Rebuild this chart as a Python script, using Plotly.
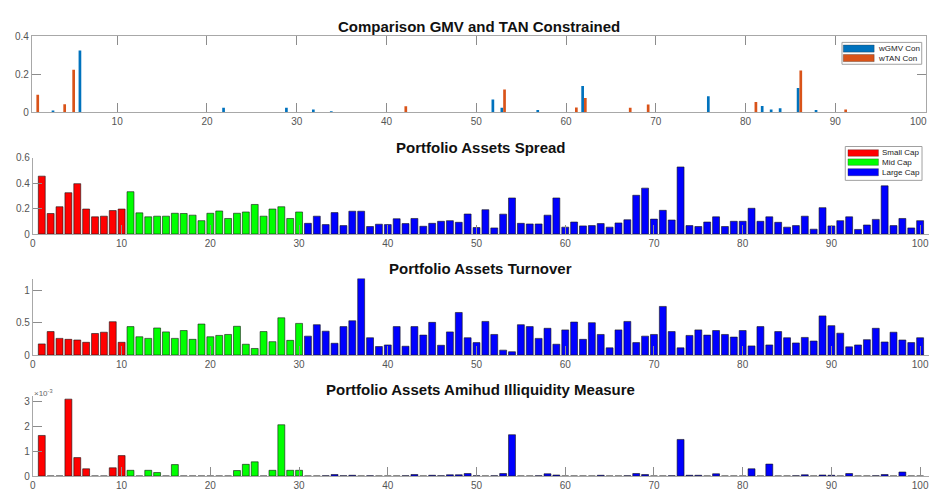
import plotly.graph_objects as go

W, H = 929, 495
assets = list(range(1, 101))

# --- Optimal weights (constrained GMV vs. tangency), only non-zero holdings ---
gmv_assets = [3, 6, 22, 29, 32, 34, 52, 53, 57, 62, 76, 82, 83, 84, 86, 88]
gmv_weights = [0.010, 0.325, 0.024, 0.024, 0.015, 0.006, 0.068, 0.024, 0.012,
               0.138, 0.085, 0.034, 0.015, 0.022, 0.128, 0.012]
tan_assets = [1, 4, 5, 42, 53, 61, 62, 67, 69, 81, 86, 91]
tan_weights = [0.092, 0.043, 0.224, 0.032, 0.120, 0.026, 0.075, 0.024, 0.041,
               0.055, 0.220, 0.015]

# --- Bid-ask spread per asset ---
spread = [0.454, 0.161, 0.214, 0.324, 0.395, 0.196, 0.135, 0.140, 0.184, 0.196,
          0.332, 0.166, 0.135, 0.140, 0.140, 0.163, 0.161, 0.148, 0.105, 0.163,
          0.181, 0.122, 0.163, 0.173, 0.232, 0.140, 0.196, 0.214, 0.122, 0.173,
          0.084, 0.140, 0.074, 0.168, 0.066, 0.179, 0.179, 0.059, 0.077, 0.074,
          0.120, 0.082, 0.122, 0.061, 0.084, 0.100, 0.105, 0.092, 0.157, 0.051,
          0.191, 0.048, 0.156, 0.283, 0.084, 0.079, 0.079, 0.148, 0.283, 0.054,
          0.094, 0.064, 0.066, 0.082, 0.054, 0.087, 0.112, 0.304, 0.360, 0.117,
          0.186, 0.110, 0.526, 0.066, 0.059, 0.094, 0.135, 0.059, 0.100, 0.100,
          0.202, 0.100, 0.135, 0.092, 0.054, 0.066, 0.140, 0.038, 0.207, 0.064,
          0.105, 0.135, 0.036, 0.071, 0.115, 0.378, 0.066, 0.122, 0.048, 0.105]

# --- Turnover per asset ---
turnover = [0.173, 0.365, 0.259, 0.244, 0.234, 0.198, 0.335, 0.355, 0.518, 0.198,
            0.442, 0.284, 0.259, 0.421, 0.360, 0.259, 0.381, 0.244, 0.482, 0.284,
            0.305, 0.320, 0.447, 0.168, 0.102, 0.365, 0.208, 0.579, 0.228, 0.492,
            0.294, 0.472, 0.371, 0.183, 0.442, 0.533, 1.190, 0.269, 0.132, 0.157,
            0.442, 0.137, 0.442, 0.310, 0.508, 0.152, 0.360, 0.662, 0.269, 0.193,
            0.523, 0.320, 0.076, 0.051, 0.472, 0.442, 0.259, 0.416, 0.168, 0.391,
            0.513, 0.244, 0.503, 0.320, 0.112, 0.391, 0.523, 0.193, 0.294, 0.320,
            0.756, 0.365, 0.112, 0.305, 0.391, 0.310, 0.381, 0.320, 0.279, 0.381,
            0.142, 0.442, 0.157, 0.365, 0.269, 0.188, 0.274, 0.218, 0.609, 0.457,
            0.340, 0.127, 0.157, 0.239, 0.416, 0.203, 0.355, 0.234, 0.193, 0.269]

# --- Amihud illiquidity per asset (x 1e-3) ---
amihud_e3 = [1.63, 0, 0, 3.09, 0.74, 0.29, 0, 0, 0.33, 0.82,
             0.23, 0, 0.23, 0.14, 0, 0.46, 0, 0, 0, 0,
             0, 0, 0.22, 0.47, 0.57, 0, 0.23, 2.06, 0.23, 0.23,
             0, 0, 0.01, 0.06, 0.01, 0.03, 0, 0.01, 0, 0,
             0, 0.01, 0.06, 0, 0.03, 0.01, 0.05, 0.05, 0.10, 0.01,
             0, 0.01, 0.10, 1.66, 0, 0, 0.01, 0.09, 0.04, 0,
             0, 0, 0, 0.03, 0, 0, 0.01, 0.10, 0.06, 0,
             0, 0.01, 1.47, 0.03, 0.03, 0, 0.09, 0, 0, 0,
             0.29, 0, 0.48, 0, 0, 0.01, 0.05, 0, 0.04, 0.03,
             0, 0.10, 0, 0, 0.01, 0.06, 0, 0.16, 0, 0]
amihud = [v * 1e-3 for v in amihud_e3]

# Size buckets: assets 1-10 small, 11-30 mid, 31-100 large
cap_names = ["Small Cap", "Mid Cap", "Large Cap"]
cap_colors = ["#ff0000", "#00ff00", "#0000ff"]
cap_of_asset = [0 if a <= 10 else (1 if a <= 30 else 2) for a in assets]
bar_colors = [cap_colors[c] for c in cap_of_asset]

GMV_COLOR = "#0072BD"
TAN_COLOR = "#D95319"
AX_LINE = "#a8a8a8"
TICK_FONT = dict(family="Liberation Sans, Arial, sans-serif", size=10, color="#555555")
TITLE_FONT = dict(family="Liberation Sans, Arial, sans-serif", size=15, color="#111111")


def py(px):
    return 1 - px / H


def px_x(px):
    return px / W


panels = [
    # (x domain px, y top px, y bottom px, title)
    ((29, 926), 31, 109, "Comparison GMV and TAN Constrained"),
    ((30, 929), 155.3, 233.7, "Portfolio Assets Spread"),
    ((30, 929), 279.3, 357.7, "Portfolio Assets Turnover"),
    ((30, 929), 400.1, 481.7, "Portfolio Assets Amihud Illiquidity Measure"),
]

fig = go.Figure()


def expand(idx, vals):
    out = [0.0] * 100
    for i, v in zip(idx, vals):
        out[i - 1] = v
    return out


# Panel 1: paired weights
fig.add_trace(go.Bar(x=assets, y=expand(gmv_assets, gmv_weights), name="wGMV Con",
                     marker=dict(color=GMV_COLOR, line=dict(width=0)),
                     width=0.3, offset=-0.3, xaxis="x", yaxis="y", showlegend=False))
fig.add_trace(go.Bar(x=assets, y=expand(tan_assets, tan_weights), name="wTAN Con",
                     marker=dict(color=TAN_COLOR, line=dict(width=0)),
                     width=0.3, offset=0.0, xaxis="x", yaxis="y", showlegend=False))

# Panels 2-4: asset characteristics coloured by size bucket
for k, series in zip([2, 3, 4], [spread, turnover, amihud]):
    fig.add_trace(go.Bar(x=assets, y=series,
                         marker=dict(color=bar_colors,
                                     line=dict(color="rgba(20,20,20,0.75)", width=0.8)),
                         width=0.78, xaxis=f"x{k}", yaxis=f"y{k}", showlegend=False))

layout = dict(
    width=W, height=H, margin=dict(l=0, r=0, t=0, b=0),
    paper_bgcolor="white", plot_bgcolor="white",
    barmode="overlay", showlegend=False,
)

y_ranges = [[0, 0.4], [0, 0.6], [0, 1.19], [0, 3.2e-3]]
y_dticks = [0.2, 0.2, 0.5, None]
x_ranges = [[0.5, 100.1], [0, 101], [0, 101], [0, 101]]

annotations = []
shapes = []
for i, ((xl, xr), yt, yb, title) in enumerate(panels):
    sfx = "" if i == 0 else str(i + 1)
    mirror = "ticks" if i == 0 else False
    xa = dict(domain=[px_x(xl), px_x(xr)], range=x_ranges[i], anchor=f"y{sfx}",
              showline=True, linecolor=AX_LINE, linewidth=1, mirror=mirror,
              ticks="inside", ticklen=9, tickcolor="#8c8c8c", tickwidth=1,
              tick0=0, dtick=10, showgrid=False, zeroline=False,
              tickfont=TICK_FONT, fixedrange=True)
    ya = dict(domain=[py(yb), py(yt)], range=y_ranges[i], anchor=f"x{sfx}",
              showline=True, linecolor=AX_LINE, linewidth=1, mirror=mirror,
              ticks="inside", ticklen=9, tickcolor="#8c8c8c", tickwidth=1,
              showgrid=False, zeroline=False,
              tickfont=TICK_FONT, fixedrange=True)
    if y_dticks[i] is not None:
        ya.update(tick0=0, dtick=y_dticks[i])
    else:
        ya.update(tickmode="array", tickvals=[0, 1e-3, 2e-3, 3e-3],
                  ticktext=["0", "1", "2", "3"])
    layout[f"xaxis{sfx}"] = xa
    layout[f"yaxis{sfx}"] = ya

    title_y = {0: 21, 1: 145, 2: 269, 3: 393}[i]
    annotations.append(dict(text=f"<b>{title}</b>", x=(px_x(xl) + px_x(xr)) / 2,
                            y=py(title_y), xref="paper", yref="paper",
                            xanchor="center", yanchor="middle", showarrow=False,
                            font=TITLE_FONT))

# last tick label of the weights axis sits against the right edge
annotations.append(dict(text="100", x=1, y=py(118), xref="paper", yref="paper",
                        xanchor="right", yanchor="middle", showarrow=False,
                        font=TICK_FONT))

# exponent label for the Amihud axis
annotations.append(dict(text="\u00d710<sup>-3</sup>", x=px_x(29), y=py(397),
                        xref="paper", yref="paper", xanchor="left", yanchor="middle",
                        showarrow=False,
                        font=dict(family="Liberation Sans, Arial, sans-serif",
                                  size=8, color="#666666")))


def legend_box(box, rows, text_x):
    x0, y0, x1, y1 = box
    shapes.append(dict(type="rect", xref="paper", yref="paper",
                       x0=px_x(x0), x1=px_x(x1), y0=py(y1), y1=py(y0),
                       line=dict(color="#a0a0a0", width=1), fillcolor="white", layer="above"))
    for (sx0, sx1, sy0, sy1, color, label) in rows:
        shapes.append(dict(type="rect", xref="paper", yref="paper",
                           x0=px_x(sx0), x1=px_x(sx1), y0=py(sy1), y1=py(sy0),
                           line=dict(color="rgba(30,30,30,0.5)", width=0.6),
                           fillcolor=color, layer="above"))
        annotations.append(dict(text=label, x=px_x(text_x), y=py((sy0 + sy1) / 2),
                                xref="paper", yref="paper", xanchor="left",
                                yanchor="middle", showarrow=False,
                                font=dict(family="Liberation Sans, Arial, sans-serif",
                                          size=8, color="#222222")))


legend_box((841.7, 37.3, 921.7, 59.7),
           [(843, 874, 40, 47.3, GMV_COLOR, "wGMV Con"),
            (843, 874, 49.7, 57, TAN_COLOR, "wTAN Con")], 876)
legend_box((845, 144, 922, 178.7),
           [(847.7, 878.3, 147.3, 154, cap_colors[0], cap_names[0]),
            (847.7, 878.3, 156.7, 163.3, cap_colors[1], cap_names[1]),
            (847.7, 878.3, 166.7, 174, cap_colors[2], cap_names[2])], 880)

layout["annotations"] = annotations
layout["shapes"] = shapes
fig.update_layout(**layout)
fig.write_html("out.html")
